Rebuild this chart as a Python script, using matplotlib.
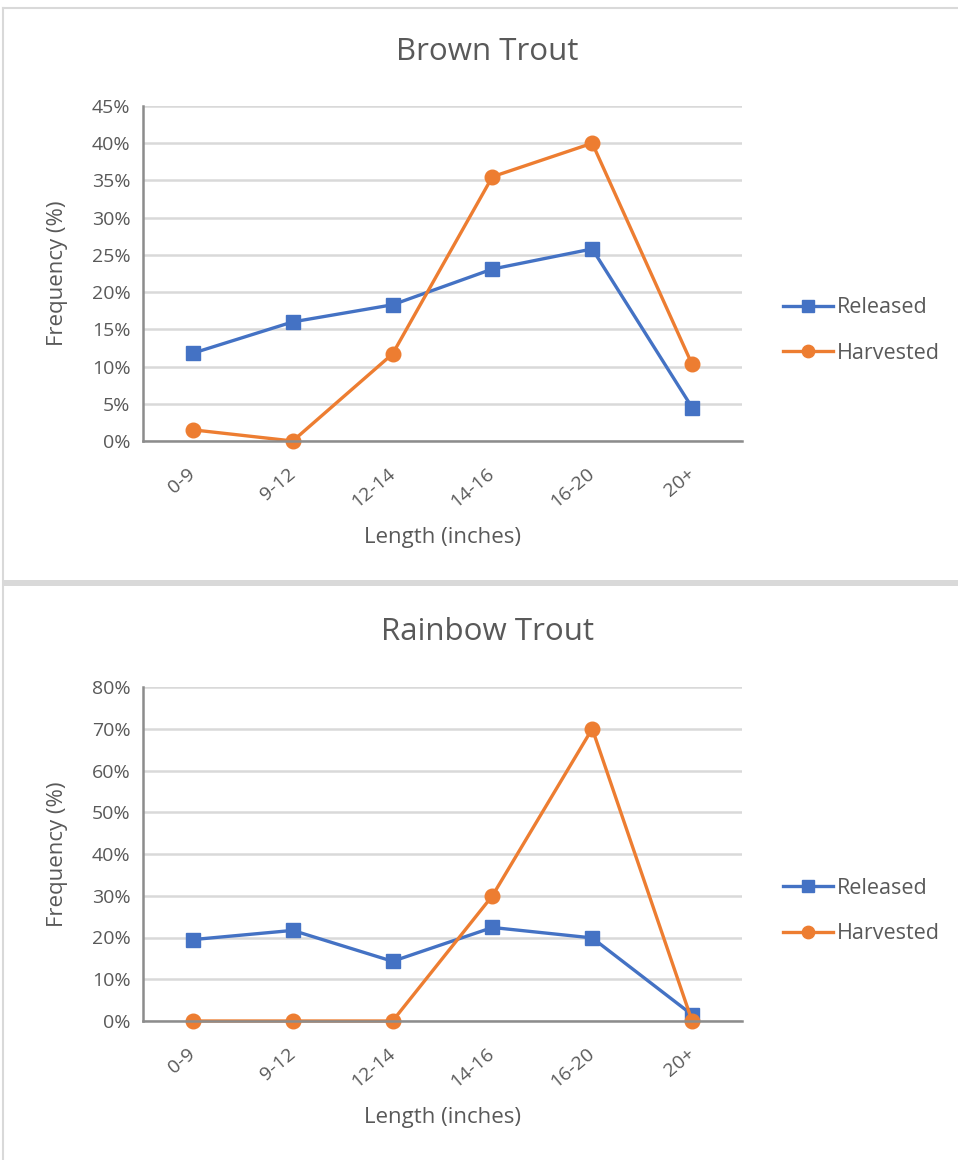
import matplotlib
matplotlib.use("Agg")
import matplotlib.pyplot as plt
from matplotlib.patches import Rectangle
from matplotlib.lines import Line2D

plt.rcParams['font.family'] = ['Open Sans', 'DejaVu Sans']

categories = ["0-9", "9-12", "12-14", "14-16", "16-20", "20+"]

brown_released = [11.8, 16.0, 18.3, 23.1, 25.8, 4.5]
brown_harvested = [1.5, 0.0, 11.7, 35.5, 40.0, 10.3]

rainbow_released = [19.5, 21.7, 14.3, 22.4, 19.9, 1.5]
rainbow_harvested = [0.0, 0.0, 0.0, 30.0, 70.0, 0.0]

W, H = 958, 1160
fig = plt.figure(figsize=(W / 100, H / 100), dpi=100)

TXT = "#595959"
BLUE = "#4472C4"
ORANGE = "#ED7D31"
GRID = "#d9d9d9"


def fx(x):
    return x / W


def fy(y):
    return 1 - y / H


# panel frames
fig.add_artist(Line2D([fx(3), fx(3)], [fy(8), fy(1160)], color=GRID, lw=1.5))
fig.add_artist(Line2D([fx(3), fx(958)], [fy(8), fy(8)], color=GRID, lw=1.5))
fig.add_artist(Rectangle((fx(3), fy(586)), 1, 6 / H, color=GRID, lw=0))


def panel(top, bottom, title, title_y, released, harvested, ymax, step):
    ax = fig.add_axes([fx(143), fy(bottom), fx(742) - fx(143), (bottom - top) / H])
    x = list(range(len(categories)))
    ax.plot(x, released, color=BLUE, lw=2.4, marker="s", markersize=10.5,
            label="Released", clip_on=False)
    ax.plot(x, harvested, color=ORANGE, lw=2.4, marker="o", markersize=10.5,
            label="Harvested", clip_on=False)
    ax.set_xlim(-0.5, len(categories) - 0.5)
    ax.set_ylim(0, ymax)
    ticks = list(range(0, ymax + 1, step))
    ax.set_yticks(ticks)
    ax.set_yticklabels([f"{t}%" for t in ticks])
    ax.set_xticks(x)
    ax.set_xticklabels(categories, rotation=40, ha="right", va="center",
                       rotation_mode="anchor")
    ax.tick_params(axis="x", length=0, pad=22, labelsize=14, labelcolor=TXT)
    ax.tick_params(axis="y", length=0, pad=9, labelsize=14, labelcolor=TXT)
    ax.grid(axis="y", color=GRID, lw=1.8)
    ax.set_axisbelow(True)
    for s in ["top", "right"]:
        ax.spines[s].set_visible(False)
    for s in ["left", "bottom"]:
        ax.spines[s].set_color("#8c8c8c")
        ax.spines[s].set_linewidth(1.8)
    fig.text(fx(487), fy(title_y), title, ha="center", va="center",
             fontsize=22.5, color=TXT)
    fig.text(fx(58), fy((top + bottom) / 2), "Frequency (%)", rotation=90,
             ha="center", va="center", fontsize=16, color=TXT)
    fig.text(fx(442), fy(bottom + 96), "Length (inches)", ha="center",
             va="center", fontsize=16, color=TXT)
    leg = ax.legend(loc="center left", bbox_to_anchor=(fx(764), fy((top + bottom) / 2 + 57)),
                    bbox_transform=fig.transFigure, frameon=False, fontsize=15.5,
                    labelspacing=1.15, handlelength=2.3, handletextpad=0.2,
                    markerscale=0.85)
    for t in leg.get_texts():
        t.set_color(TXT)
    return ax


panel(106, 441, "Brown Trout", 52, brown_released, brown_harvested, 45, 5)
panel(687, 1021, "Rainbow Trout", 632, rainbow_released, rainbow_harvested, 80, 10)

fig.savefig("out.png", dpi=100, facecolor="white")
